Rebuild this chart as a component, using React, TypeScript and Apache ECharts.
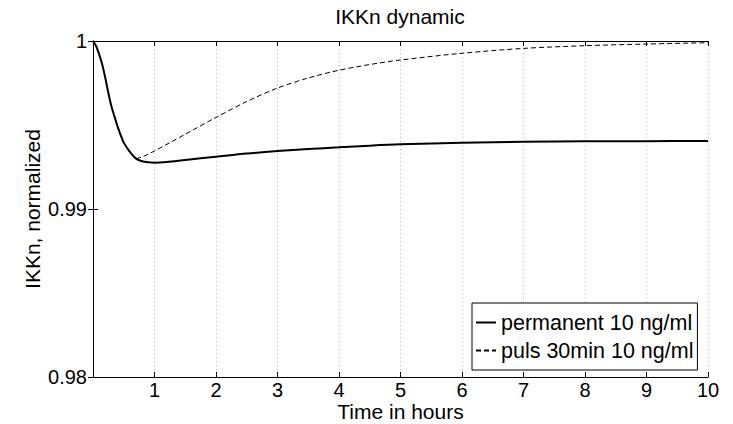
import React, { useEffect, useRef } from "react";
import * as echarts from "echarts";

const titleText = "IKKn dynamic";
const xName = "Time in hours";
const yName = "IKKn, normalized";
const seriesNames = ["permanent 10 ng/ml", "puls 30min 10 ng/ml"];

const permTime = [0, 0.05, 0.1, 0.15, 0.2, 0.25, 0.3, 0.35, 0.4, 0.45, 0.5, 0.6, 0.7, 0.8, 0.9, 1.0, 1.2, 1.5, 2, 2.5, 3, 3.5, 4, 4.5, 5, 6, 7, 8, 9, 10];
const permValues = [1.0, 0.9997, 0.9992, 0.9986, 0.9978, 0.9969, 0.9961, 0.9955, 0.9949, 0.9944, 0.99395, 0.9934, 0.993, 0.99284, 0.99278, 0.99276, 0.9928, 0.99292, 0.99311, 0.9933, 0.99345, 0.99357, 0.99367, 0.99377, 0.99385, 0.99394, 0.994, 0.99403, 0.99404, 0.99405];

const pulsTime = [0.7, 0.8, 0.9, 1.0, 1.25, 1.5, 2, 2.5, 3, 3.5, 4, 4.5, 5, 6, 7, 8, 9, 10];
const pulsValues = [0.993, 0.9931, 0.99327, 0.99345, 0.99395, 0.99445, 0.99545, 0.9964, 0.9972, 0.9978, 0.99826, 0.9986, 0.99887, 0.99927, 0.99956, 0.99972, 0.99982, 0.9999];

const yTickLabels: Record<string, string> = { "0.98": "0.98", "0.99": "0.99", "1": "1" };

const FONT = "'Liberation Sans', Arial, Helvetica, sans-serif";

export default function App() {
  const ref = useRef<HTMLDivElement>(null);
  useEffect(() => {
    if (!ref.current) return;
    const chart = echarts.init(ref.current, undefined, { renderer: "svg" });
    const axisLine = { show: true, lineStyle: { color: "#000", width: 1 } };
    const tick = { show: true, inside: true, length: 5, lineStyle: { color: "#000", width: 1 } };
    chart.setOption({
      animation: false,
      backgroundColor: "#fff",
      title: {
        text: titleText,
        left: 400,
        textAlign: "center",
        top: 6,
        padding: 0,
        textStyle: { fontFamily: FONT, fontSize: 21, fontWeight: "normal", color: "#000" },
      },
      grid: { left: 93, top: 41, width: 615, height: 336, containLabel: false, outerBoundsMode: "none" },
      legend: {
        orient: "vertical",
        left: 472,
        top: 303,
        data: seriesNames,
        backgroundColor: "#fff",
        borderColor: "#000",
        borderWidth: 1,
        borderRadius: 0,
        padding: [7, 4, 7, 3],
        itemWidth: 20,
        itemHeight: 14,
        itemGap: 3,
        itemStyle: { opacity: 0 },
        textStyle: { fontFamily: FONT, fontSize: 21.5, color: "#000", lineHeight: 25 },
      },
      xAxis: [
        {
          type: "value",
          min: 0,
          max: 10,
          interval: 1,
          name: xName,
          nameLocation: "middle",
          nameGap: 26,
          nameMoveOverlap: false,
          nameTextStyle: { fontFamily: FONT, fontSize: 21, color: "#000", lineHeight: 16 },
          axisLine,
          axisTick: tick,
          axisLabel: {
            margin: 6,
            fontFamily: FONT,
            fontSize: 20,
            lineHeight: 14,
            color: "#000",
            formatter: (v: number) => (v === 0 ? "" : String(v)),
          },
          splitLine: { show: true, lineStyle: { color: "#b0b0b0", type: [1, 3], width: 1 } },
        },
        {
          type: "value",
          position: "top",
          min: 0,
          max: 10,
          interval: 1,
          axisLine,
          axisTick: tick,
          axisLabel: { show: false },
          splitLine: { show: false },
        },
      ],
      yAxis: [
        {
          type: "value",
          min: 0.98,
          max: 1,
          interval: 0.01,
          name: yName,
          nameLocation: "middle",
          nameGap: 50,
          nameMoveOverlap: false,
          nameTextStyle: { fontFamily: FONT, fontSize: 21, color: "#000" },
          axisLine,
          axisTick: tick,
          axisLabel: {
            margin: 6,
            fontFamily: FONT,
            fontSize: 20,
            color: "#000",
            formatter: (v: number) => yTickLabels[String(Math.round(v * 100) / 100)] ?? String(v),
          },
          splitLine: { show: false },
        },
        {
          type: "value",
          position: "right",
          min: 0.98,
          max: 1,
          interval: 0.01,
          axisLine,
          axisTick: tick,
          axisLabel: { show: false },
          splitLine: { show: false },
        },
      ],
      series: [
        {
          name: seriesNames[0],
          type: "line",
          data: permTime.map((t, i) => [t, permValues[i]]),
          showSymbol: false,
          symbol: "none",
          smooth: 0.3,
          lineStyle: { color: "#000", width: 2 },
          itemStyle: { color: "#000" },
        },
        {
          name: seriesNames[1],
          type: "line",
          data: pulsTime.map((t, i) => [t, pulsValues[i]]),
          showSymbol: false,
          symbol: "none",
          smooth: 0.3,
          lineStyle: { color: "#000", width: 1, type: [5, 3] },
          itemStyle: { color: "#000" },
        },
      ],
    });
    return () => chart.dispose();
  }, []);
  return <div ref={ref} style={{ width: 733, height: 424, position: "absolute", left: 0, top: 0 }} />;
}
